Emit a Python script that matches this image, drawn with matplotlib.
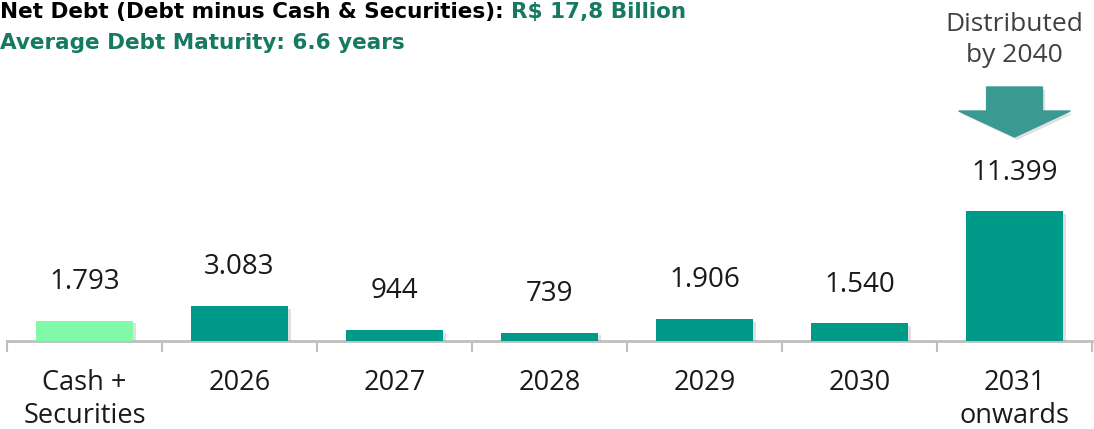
import matplotlib
matplotlib.use("Agg")
import matplotlib.pyplot as plt
import matplotlib.patheffects as pe
from matplotlib.patches import FancyArrow

# ------------------------------------------------------------
#   DATOS
# ------------------------------------------------------------
categories = ["Cash +\nSecurities", "2026", "2027", "2028", "2029", "2030", "2031\nonwards"]
values = [1793, 3083, 944, 739, 1906, 1540, 11399]
value_labels = ["1.793", "3.083", "944", "739", "1.906", "1.540", "11.399"]
bar_colors = ["#80F9A8"] + ["#009A88"] * 6

title_black = "Net Debt (Debt minus Cash & Securities): "
title_green = "R$ 17,8 Billion"
subtitle = "Average Debt Maturity: 6.6 years"
note = "Distributed\nby 2040"

GREEN_TXT = "#167A62"
GRAY = "#BFBFBF"

plt.rcParams["font.family"] = ["Open Sans", "DejaVu Sans"]

W, H = 1094, 429
fig = plt.figure(figsize=(W / 100, H / 100), dpi=100)
ax = fig.add_axes([7 / W, 88 / H, 1085 / W, 341 / H])

x = list(range(len(categories)))
shadow = [pe.SimplePatchShadow(offset=(2, -2), shadow_rgbFace="#9A9A9A", alpha=0.3), pe.Normal()]
bars = ax.bar(x, values, width=0.63, color=bar_colors, zorder=3)
for b in bars:
    b.set_path_effects(shadow)

for xi, v, lab in zip(x, values, value_labels):
    ax.annotate(lab, (xi, v), xytext=(0, 28), textcoords="offset points",
                ha="center", va="center", fontsize=20, color="#1A1A1A")

ax.set_xlim(-0.5, len(categories) - 0.5)
ax.set_ylim(0, 30000)

for s in ["top", "right", "left"]:
    ax.spines[s].set_visible(False)
ax.spines["bottom"].set_color(GRAY)
ax.spines["bottom"].set_linewidth(2)
ax.set_yticks([])

ax.set_xticks(x)
ax.set_xticklabels(categories, fontsize=19.5, color="#1A1A1A", linespacing=1.25)
ax.tick_params(axis="x", which="major", length=0, pad=20)
ax.set_xticks([i - 0.5 for i in range(len(categories) + 1)], minor=True)
ax.tick_params(axis="x", which="minor", length=8, width=1.5, color=GRAY, direction="out")

# flecha "Distributed by 2040"
px = 30000 / 341  # unidades de datos por pixel vertical
arrow = FancyArrow(len(categories) - 1, 254 * px, 0, -50 * px, width=0.36,
                   head_width=0.72, head_length=26 * px, length_includes_head=True,
                   color="#3A9990", zorder=4, clip_on=False)
arrow.set_path_effects([pe.SimplePatchShadow(offset=(2, -2), shadow_rgbFace="#9A9A9A", alpha=0.3), pe.Normal()])
ax.add_patch(arrow)
ax.text(len(categories) - 1, 301 * px, note, ha="center", va="center", fontsize=19,
        color="#404040", linespacing=1.35, clip_on=False)

# titulos
tfont = dict(fontsize=15.5, fontweight="bold", family=["DejaVu Sans"])
t1 = fig.text(0, 1 - 12 / H, title_black, ha="left", va="center", color="black", **tfont)
fig.canvas.draw()
ax.annotate(title_green, xy=(1, 0.5), xycoords=t1, ha="left", va="center",
            color=GREEN_TXT, annotation_clip=False, **tfont)
fig.text(0, 1 - 43 / H, subtitle, ha="left", va="center", color=GREEN_TXT, **tfont)

fig.savefig("out.png", dpi=100)
